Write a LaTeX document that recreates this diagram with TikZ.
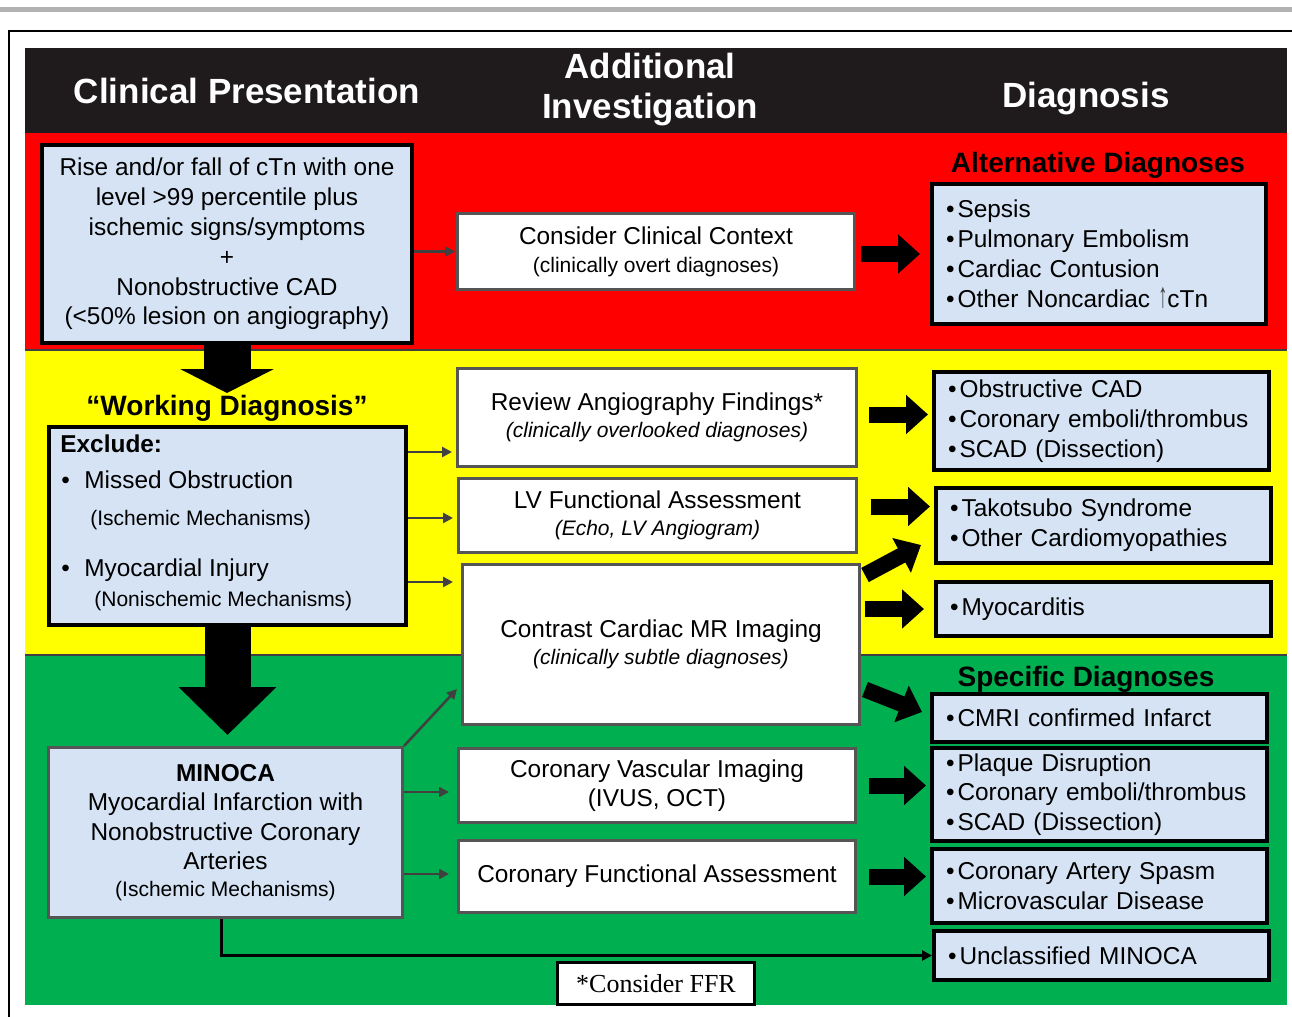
\documentclass[tikz,border=0pt]{standalone}
\usepackage{fontspec}
\setmainfont{Liberation Sans}
\newfontfamily\seriffam{Liberation Serif}
\usetikzlibrary{arrows.meta,calc}
\definecolor{hdr}{RGB}{31,27,28}
\definecolor{redb}{RGB}{255,0,0}
\definecolor{yelb}{RGB}{255,255,0}
\definecolor{grnb}{RGB}{0,176,80}
\definecolor{lblue}{RGB}{213,227,244}
\definecolor{bord}{RGB}{85,85,85}
\definecolor{arrgray}{RGB}{64,64,64}
\newcommand{\fsz}[2]{\fontsize{#1}{#2}\selectfont}
\newcommand{\itm}{•\hspace{1.5pt}}
\newcommand{\uparr}{\textcolor{black!75}{\scalebox{0.75}[1.45]{↑}}}
\tikzset{
 wh/.style 2 args={minimum width=#1*0.5pt, minimum height=#2*0.5pt},
 bluebox/.style={draw=black, line width=2pt, fill=lblue, inner sep=0pt, anchor=north west},
 listbox/.style={bluebox, align=left, text width=153.5pt, inner xsep=7pt, font=\fsz{12.2}{14.9}},
 whitebox/.style={draw=bord, line width=1.5pt, fill=white, inner sep=0pt, anchor=north west, align=center, font=\fsz{12.2}{14}},
 hdrtxt/.style={font=\bfseries\fsz{17.5}{20}, text=white, inner sep=0pt, anchor=base},
 ttl/.style={font=\bfseries\fsz{14}{16}, text=black, inner sep=0pt, anchor=base},
 wtx/.style={anchor=base west, inner sep=0pt, font=\fsz{12.2}{14}},
 wsub/.style={anchor=base west, inner sep=0pt, font=\fsz{10.5}{12}},
 thinarr/.style={draw=arrgray, line width=1.3pt, -{Triangle[length=5pt,width=5pt]}},
 fat/.style={draw=black, line width=8pt, -{Triangle[length=11pt,width=19pt]}},
 downA/.style={draw=black, line width=23.5pt, -{Triangle[length=12pt,width=46.5pt]}},
 downB/.style={draw=black, line width=23pt, -{Triangle[length=24pt,width=47.5pt]}},
}
\begin{document}
\begin{tikzpicture}[x=0.5pt,y=-0.5pt]
\useasboundingbox (0,0) rectangle (1292,1017);
% frame and bands
\fill[gray!60] (0,7) rectangle (1292,12);
\draw[line width=1pt] (9,1017) -- (9,31) -- (1292,31);
\fill[hdr] (25,48) rectangle (1287,133);
\fill[redb] (25,133) rectangle (1287,350);
\fill[yelb] (25,350) rectangle (1287,655);
\fill[grnb] (25,655) rectangle (1287,1005);
\draw[arrgray, line width=0.6pt] (25,350) -- (1287,350) (25,655) -- (1287,655);
% header
\node[hdrtxt] (h1) at (247,103) {Clinical Presentation};
\node[hdrtxt] (h2a) at (650,78) {Additional};
\node[hdrtxt] (h2b) at (650,119) {Investigation};
\node[hdrtxt] (h3) at (1086,107) {Diagnosis};
% left column
\node[bluebox, wh={370}{198}, align=center, font=\fsz{12.2}{14.9}] (b1) at (40,143)
 {Rise and/or fall of cTn with one\\level >99 percentile plus\\ischemic signs/symptoms\\+\\Nonobstructive CAD\\(<50\% lesion on angiography)};
\node[ttl] (wt) at (227,415) {“Working Diagnosis”};
\node[bluebox, wh={357}{198}] (wd) at (47,425) {};
\node[wtx, font=\bfseries\fsz{12.2}{14}] (wx) at (60,452) {Exclude:};
\node[wtx] (w1) at (61,488) {\makebox[11.5pt][l]{•}Missed Obstruction};
\node[wsub] (w2) at (90,525) {(Ischemic Mechanisms)};
\node[wtx] (w3) at (61,576) {\makebox[11.5pt][l]{•}Myocardial Injury};
\node[wsub] (w4) at (94,606) {(Nonischemic Mechanisms)};
\node[bluebox, draw=bord, line width=1.5pt, wh={354}{170}, align=center, font=\fsz{12.2}{14.8}] (mi) at (47,746)
 {{\bfseries MINOCA}\\Myocardial Infarction with\\Nonobstructive Coronary\\Arteries\\[-1.5pt]{\fsz{10.5}{13}(Ischemic Mechanisms)}};
% middle column
\node[whitebox, wh={397}{76}] (cc) at (456,212) {Consider Clinical Context\\{\fsz{10.5}{14}(clinically overt diagnoses)}};
\node[whitebox, wh={399}{98}] (rev) at (456,367) {Review Angiography Findings*\\[-0.5pt]{\fsz{10.5}{13.5}\itshape (clinically overlooked diagnoses)}};
\node[whitebox, wh={398}{74}] (lv) at (457,477) {LV Functional Assessment\\[-0.5pt]{\fsz{10.5}{13.5}\itshape (Echo, LV Angiogram)}};
\node[whitebox, wh={397}{160}] (mr) at (461,563) {Contrast Cardiac MR Imaging\\[-0.5pt]{\fsz{10.5}{13.5}\itshape (clinically subtle diagnoses)}};
\node[whitebox, wh={397}{74}] (cvi) at (457,747) {Coronary Vascular Imaging\\[0.5pt](IVUS, OCT)};
\node[whitebox, wh={397}{72}] (cfa) at (457,839) {Coronary Functional Assessment};
\node[draw=black, line width=1.5pt, fill=white, wh={197}{42}, anchor=north west, inner sep=0pt, font=\seriffam\fsz{13}{15}] (ffr) at (556,961) {*Consider FFR};
% right column
\node[ttl] (altt) at (1098,172) {Alternative Diagnoses};
\node[listbox, wh={334}{140}, text width=153pt] (alt) at (930,182) {\itm Sepsis\\\itm Pulmonary Embolism\\\itm Cardiac Contusion\\\itm Other Noncardiac \uparr cTn};
\node[listbox, wh={335}{98}] (obs) at (932,370) {\itm Obstructive CAD\\\itm Coronary emboli/thrombus\\\itm SCAD (Dissection)};
\node[listbox, wh={335}{75}] (tak) at (934,486) {\itm Takotsubo Syndrome\\\itm Other Cardiomyopathies};
\node[listbox, wh={335}{54}] (myo) at (934,580) {\itm Myocarditis};
\node[ttl] (spt) at (1086,686) {Specific Diagnoses};
\node[listbox, wh={335}{48}] (cmri) at (930,692) {\itm CMRI confirmed Infarct};
\node[listbox, wh={335}{93}] (plq) at (930,746) {\itm Plaque Disruption\\\itm Coronary emboli/thrombus\\\itm SCAD (Dissection)};
\node[listbox, wh={335}{74}] (spa) at (930,847) {\itm Coronary Artery Spasm\\\itm Microvascular Disease};
\node[listbox, wh={335}{49}] (unc) at (932,929) {\itm Unclassified MINOCA};
% thin arrows
\draw[thinarr, shorten >=0.5pt] (b1.east |- cc.west) -- (cc.west);
\coordinate (p1) at ($(wd.north east)+(0,27)$);
\coordinate (p2) at ($(wd.north east)+(0,93)$);
\coordinate (p3) at ($(wd.north east)+(0,157)$);
\draw[thinarr, shorten >=2pt] (p1) -- (p1 -| rev.west);
\draw[thinarr, shorten >=2pt] (p2) -- (p2 -| lv.west);
\draw[thinarr, shorten >=4pt] (p3) -- (p3 -| mr.west);
\coordinate (q1) at ($(mi.north east)+(0,46)$);
\coordinate (q2) at ($(mi.north east)+(0,128)$);
\coordinate (q3) at ($(mr.south west)+(-4,-37)$);
\draw[thinarr] (mi.north east) -- (q3);
\draw[thinarr, shorten >=4pt] (q1) -- (q1 -| cvi.west);
\draw[thinarr, shorten >=4pt] (q2) -- (q2 -| cfa.west);
\draw[line width=1.5pt, -{Triangle[length=5pt,width=5pt]}] ($(mi.south)+(-4,0)$) |- (unc.west);
% down arrows
\coordinate (t1) at ($(b1.south)+(0,48)$);
\draw[downA] (b1.south) -- (t1);
\coordinate (t2) at ($(mi.north)+(0,-11)$);
\draw[downB] (wd.south) -- (wd.south |- t2);
% fat arrows
\draw[fat, shorten <=2.5pt, shorten >=5pt] (cc.east |- alt.west) -- (alt.west);
\coordinate (r1) at ($(rev.east)+(0,-3)$);
\draw[fat, shorten <=5.5pt, shorten >=2pt] (r1) -- (r1 -| obs.west);
\coordinate (r2) at ($(lv.east)+(0,-9)$);
\draw[fat, shorten <=6.5pt, shorten >=2pt] (r2) -- (r2 -| tak.west);
\draw[fat] ($(mr.north east)+(4,12)$) -- ($(tak.south west)+(-13,-20)$);
\draw[fat, shorten <=2pt, shorten >=5pt] (mr.east |- myo.west) -- (myo.west);
\draw[fat] ($(mr.east)+(4,45)$) -- ($(cmri.west)+(-8,-6)$);
\draw[fat, shorten <=6pt, shorten >=2pt] (cvi.east) -- (cvi.east -| plq.west);
\draw[fat, shorten <=6pt, shorten >=2pt] (cfa.east) -- (cfa.east -| spa.west);
\end{tikzpicture}
\end{document}
